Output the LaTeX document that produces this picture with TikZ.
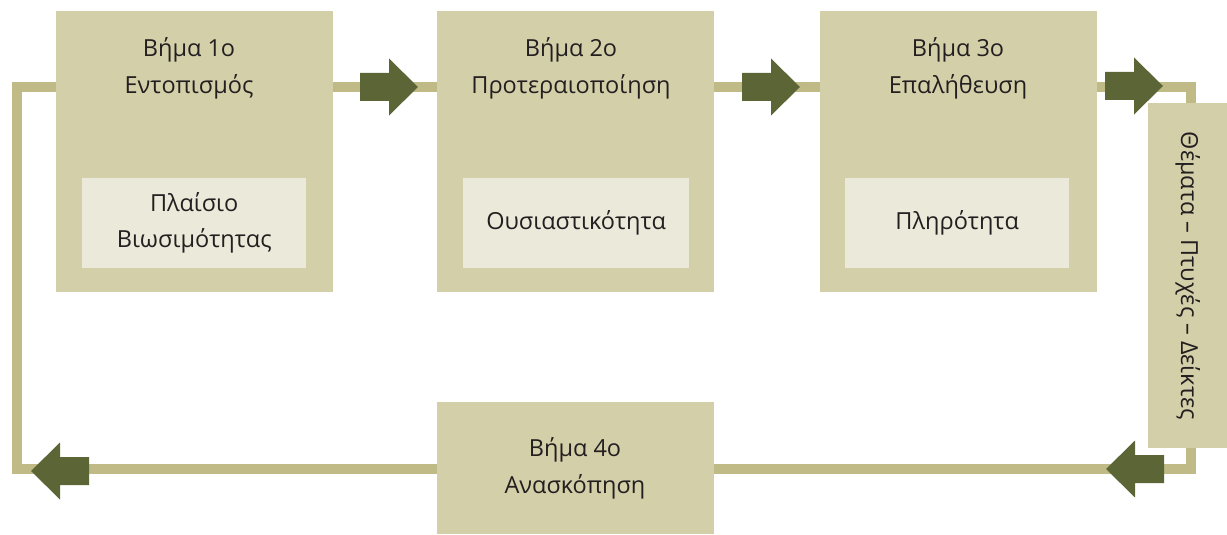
\documentclass[tikz,border=0pt]{standalone}
\usepackage{fontspec}
\setmainfont{Open Sans}
\definecolor{boxfill}{HTML}{D3CFA9}
\definecolor{innerfill}{HTML}{EBE9DA}
\definecolor{linecol}{HTML}{C0BB86}
\definecolor{arrowcol}{HTML}{5C6535}
\definecolor{textcol}{HTML}{231F20}
\begin{document}
\begin{tikzpicture}[x=1pt,y=-1pt,
  stepbox/.style={fill=boxfill,draw=none,minimum width=277pt,minimum height=281pt,inner sep=0pt,anchor=north west},
  innerbox/.style={fill=innerfill,draw=none,minimum width=224pt,minimum height=90pt,inner sep=0pt,anchor=north west,align=center,text=textcol,font=\fontsize{23.5}{36}\selectfont},
  steptext/.style={align=center,text=textcol,font=\fontsize{23.5}{37}\selectfont,inner sep=0pt},
  conn/.style={draw=linecol,line width=10.5pt},
  barrow/.pic={\fill[arrowcol] (-29,-14) -- (0,-14) -- (0,-28.5) -- (29,0) -- (0,28.5) -- (0,14) -- (-29,14) -- cycle;}
]
\useasboundingbox (0,0) rectangle (1227,535);
% boxes
\node[stepbox] (b1) at (56,11) {};
\node[stepbox] (b2) at (437,11) {};
\node[stepbox] (b3) at (820,11) {};
\node[stepbox,minimum height=132pt] (b4) at (437,402) {};
\node[fill=boxfill,minimum width=79pt,minimum height=345pt,inner sep=0pt,anchor=north west] (side) at (1148,103) {};
% connectors
\coordinate (tl) at (17,87);
\coordinate (bl) at (17,469);
\coordinate (tr) at (1191,87);
\coordinate (br) at (1191,469);
\draw[conn] (b1.east |- tl) -- (b2.west |- tl);
\draw[conn] (b2.east |- tl) -- (b3.west |- tl);
\draw[conn,line join=miter] (b3.east |- tr) -- (tr) -- (tr |- side.north);
\draw[conn,line join=miter] (tr |- side.south) -- (br) -- (b4.east |- br);
\draw[conn,line join=miter] (b4.west |- bl) -- (bl) -- (tl) -- (b1.west |- tl);
% inner boxes
\node[innerbox] (i1) at (82,178) {Πλαίσιο\\Βιωσιμότητας};
\node[innerbox,minimum width=226pt] (i2) at (463,178) {Ουσιαστικότητα};
\node[innerbox] (i3) at (845,178) {Πληρότητα};
% texts
\node[steptext] (t1) at (189,68) {Βήμα 1ο\\Εντοπισμός};
\node[steptext] (t2) at (571,68) {Βήμα 2ο\\Προτεραιοποίηση};
\node[steptext] (t3) at (958,68) {Βήμα 3ο\\Επαλήθευση};
\node[steptext] (t4) at (575,468) {Βήμα 4ο\\Ανασκόπηση};
\node[steptext,rotate=-90] (ts) at (side.center) {Θέματα – Πτυχές – Δείκτες};
% block arrows
\pic at (389,87) {barrow};
\pic at (771,87) {barrow};
\pic at (1134,86) {barrow};
\pic[xscale=-1] at (1135,469) {barrow};
\pic[xscale=-1] at (60,471) {barrow};
\end{tikzpicture}
\end{document}
